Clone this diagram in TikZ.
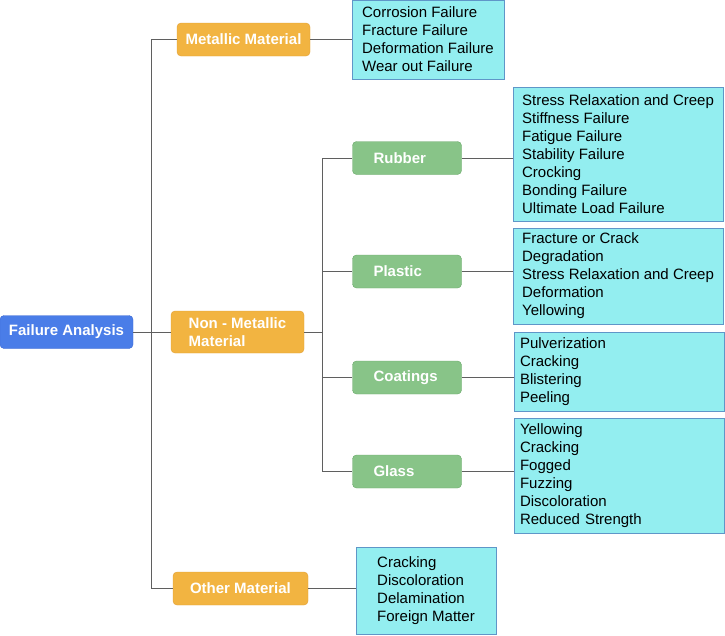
\documentclass[tikz,border=0pt]{standalone}
\usepackage{fontspec}
\setmainfont{Liberation Sans}
\usetikzlibrary{positioning}

\definecolor{rootblue}{RGB}{74,125,232}
\definecolor{rootline}{RGB}{60,105,210}
\definecolor{matorange}{RGB}{242,180,65}
\definecolor{matline}{RGB}{225,160,55}
\definecolor{subgreen}{RGB}{136,196,136}
\definecolor{subline}{RGB}{105,168,105}
\definecolor{listcyan}{RGB}{147,238,240}
\definecolor{listline}{RGB}{95,150,200}
\definecolor{linkgray}{RGB}{95,95,95}

\tikzset{
  root/.style={draw=rootline, fill=rootblue, rounded corners=4pt, text=white,
    font=\fontsize{15}{18}\selectfont\bfseries, minimum width=133pt, minimum height=33pt},
  material/.style={draw=matline, fill=matorange, rounded corners=4pt, text=white,
    font=\fontsize{15}{18}\selectfont\bfseries, align=left, inner xsep=4pt,
    minimum width=133pt, minimum height=33pt},
  kind/.style={draw=subline, fill=subgreen, rounded corners=4pt, text=white,
    font=\fontsize{15}{18}\selectfont\bfseries, align=left, inner xsep=21pt,
    text width=67pt, minimum height=33pt},
  modes/.style={draw=listline, fill=listcyan, line width=0.8pt,
    font=\fontsize{15}{18}\selectfont, align=left, inner ysep=2pt, inner xsep=4pt},
  link/.style={draw=linkgray, line width=1pt}
}

\begin{document}
\begin{tikzpicture}[x=1pt, y=1pt]
    \useasboundingbox (0,0) rectangle (725,-635);

    % Nodes
    \node[root] (FA) at (66.5,-332) {Failure Analysis};
    \node[material] (MM) at (243.5,-39.5) {Metallic Material};
    \node[material, minimum height=42pt] (NM) at (237.5,-332) {Non - Metallic\\Material};
    \node[material, minimum width=135pt] (OM) at (240.5,-588.5) {Other Material};

    \node[kind] (R) at (407,-158) {Rubber};
    \node[kind] (P) at (407,-271.5) {Plastic};
    \node[kind] (C) at (407,-377.5) {Coatings};
    \node[kind] (G) at (407,-471.5) {Glass};

    % Failure modes
    \node[modes, minimum width=152pt, minimum height=79pt] (MML) at (428,-39.5)
        {Corrosion Failure\\Fracture Failure\\Deformation Failure\\Wear out Failure};
    \node[modes, minimum width=210pt, minimum height=134pt] (RL) at (618,-154)
        {Stress Relaxation and Creep\\Stiffness Failure\\Fatigue Failure\\Stability Failure\\Crocking\\Bonding Failure\\Ultimate Load Failure};
    \node[modes, minimum width=210pt, minimum height=96pt] (PL) at (618,-276)
        {Fracture or Crack\\Degradation\\Stress Relaxation and Creep\\Deformation\\Yellowing};
    \node[modes, inner xsep=6pt, text width=198pt, minimum height=79pt] (CL) at (619,-371.5)
        {Pulverization\\Cracking\\Blistering\\Peeling};
    \node[modes, inner xsep=6pt, text width=198pt, minimum height=115pt] (GL) at (619,-475.5)
        {Yellowing\\Cracking\\Fogged\\Fuzzing\\Discoloration\\Reduced Strength};
    \node[modes, minimum width=140pt, minimum height=87pt] (OL) at (426,-590.5)
        {Cracking\\Discoloration\\Delamination\\Foreign Matter};

    % Tree lines
    \draw[link] (FA) -- (NM);
    \draw[link] (MM.west) -- ++(-25,0) coordinate (T) |- (OM.west);
    \draw[link] (R.west) -- ++(-30,0) coordinate (S) |- (G.west);
    \draw[link] (NM.east) -- (NM.east -| S);
    \draw[link] (P.west) -- (P.west -| S);
    \draw[link] (C.west) -- (C.west -| S);

    % To the lists
    \draw[link] (MM.east) -- (MM.east -| MML.west);
    \draw[link] (R.east) -- (R.east -| RL.west);
    \draw[link] (P.east) -- (P.east -| PL.west);
    \draw[link] (C.east) -- (C.east -| CL.west);
    \draw[link] (G.east) -- (G.east -| GL.west);
    \draw[link] (OM.east) -- (OM.east -| OL.west);
\end{tikzpicture}
\end{document}
